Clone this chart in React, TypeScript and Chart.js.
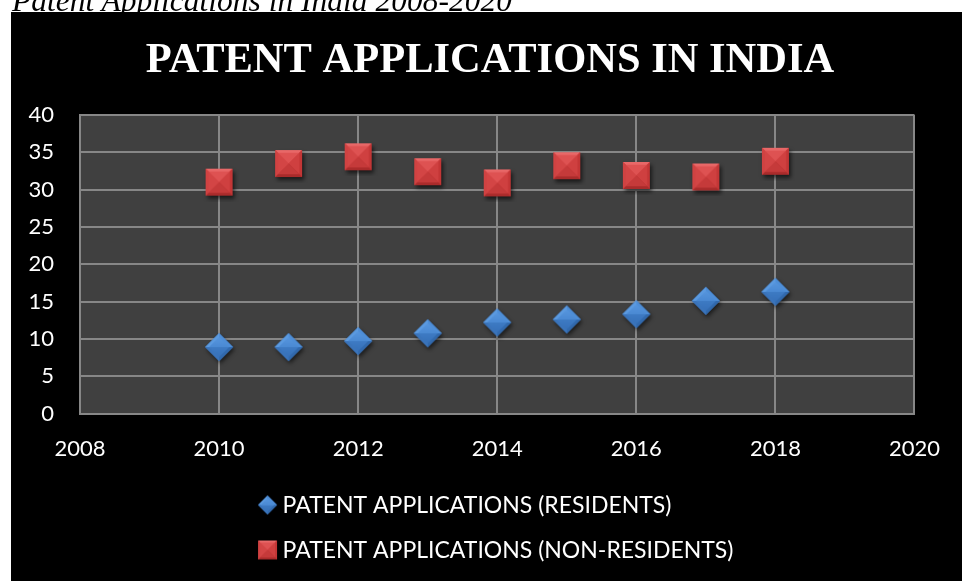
import React, { useEffect, useRef } from "react";
import { Chart, registerables } from "chart.js";

Chart.register(...registerables);

const caption = "Patent Applications in India 2008-2020";
const chartTitle = "PATENT APPLICATIONS IN INDIA";
const years = [2010, 2011, 2012, 2013, 2014, 2015, 2016, 2017, 2018];
const residents = [8.9, 8.9, 9.7, 10.75, 12.2, 12.6, 13.3, 15.1, 16.3];
const nonResidents = [31.0, 33.5, 34.4, 32.4, 30.9, 33.2, 31.9, 31.7, 33.8];
const seriesLabels = [
  "PATENT APPLICATIONS (RESIDENTS)",
  "PATENT APPLICATIONS (NON-RESIDENTS)",
];
const xMin = 2008;
const xMax = 2020;
const xStep = 2;
const yMin = 0;
const yMax = 40;
const yStep = 5;

const TICK_FONT = "Lato";
const SERIF = "'Liberation Serif', 'Times New Roman', serif";

function makeDiamond(size: number): HTMLCanvasElement {
  const pad = 6;
  const c = document.createElement("canvas");
  c.width = size + pad * 2;
  c.height = size + pad * 2;
  const ctx = c.getContext("2d")!;
  const m = c.width / 2;
  const r = size / 2;
  const T = [m, m - r], R = [m + r, m], B = [m, m + r], L = [m - r, m];
  ctx.save();
  ctx.shadowColor = "rgba(0,0,0,0.6)";
  ctx.shadowBlur = 4;
  ctx.shadowOffsetX = 1.5;
  ctx.shadowOffsetY = 2.5;
  ctx.beginPath();
  ctx.moveTo(T[0], T[1]); ctx.lineTo(R[0], R[1]); ctx.lineTo(B[0], B[1]); ctx.lineTo(L[0], L[1]);
  ctx.closePath();
  ctx.fillStyle = "#3b77c0";
  ctx.fill();
  ctx.restore();
  const tri = (a: number[], b: number[], col: string) => {
    ctx.beginPath();
    ctx.moveTo(a[0], a[1]); ctx.lineTo(b[0], b[1]); ctx.lineTo(m, m);
    ctx.closePath();
    ctx.fillStyle = col;
    ctx.fill();
  };
  tri(L, T, "#5b9ae0");
  tri(T, R, "#4e8ed7");
  tri(R, B, "#3169ad");
  tri(B, L, "#3a74bb");
  const ir = r * 0.72;
  ctx.beginPath();
  ctx.moveTo(m, m - ir); ctx.lineTo(m + ir, m); ctx.lineTo(m, m + ir); ctx.lineTo(m - ir, m);
  ctx.closePath();
  const g = ctx.createLinearGradient(m, m - ir, m, m + ir);
  g.addColorStop(0, "#5796de");
  g.addColorStop(0.5, "#4a89d3");
  g.addColorStop(0.5, "#3e7bc4");
  g.addColorStop(1, "#3670b8");
  ctx.fillStyle = g;
  ctx.fill();
  return c;
}

function makeSquare(size: number): HTMLCanvasElement {
  const pad = 6;
  const c = document.createElement("canvas");
  c.width = size + pad * 2;
  c.height = size + pad * 2;
  const ctx = c.getContext("2d")!;
  const m = c.width / 2;
  const r = size / 2;
  const TL = [m - r, m - r], TR = [m + r, m - r], BR = [m + r, m + r], BL = [m - r, m + r];
  ctx.save();
  ctx.shadowColor = "rgba(0,0,0,0.6)";
  ctx.shadowBlur = 4;
  ctx.shadowOffsetX = 1.5;
  ctx.shadowOffsetY = 2.5;
  ctx.fillStyle = "#c13333";
  ctx.fillRect(m - r, m - r, size, size);
  ctx.restore();
  const tri = (a: number[], b: number[], col: string) => {
    ctx.beginPath();
    ctx.moveTo(a[0], a[1]); ctx.lineTo(b[0], b[1]); ctx.lineTo(m, m);
    ctx.closePath();
    ctx.fillStyle = col;
    ctx.fill();
  };
  tri(TL, TR, "#e86868");
  tri(TR, BR, "#c33636");
  tri(BR, BL, "#a92b2b");
  tri(BL, TL, "#d04242");
  const ir = r * 0.8;
  const ITL = [m - ir, m - ir], ITR = [m + ir, m - ir], IBR = [m + ir, m + ir], IBL = [m - ir, m + ir];
  tri(ITL, ITR, "#de5252");
  tri(ITR, IBR, "#cf4040");
  tri(IBR, IBL, "#c53a3a");
  tri(IBL, ITL, "#d34545");
  return c;
}

export default function App() {
  const canvasRef = useRef<HTMLCanvasElement | null>(null);

  useEffect(() => {
    const canvas = canvasRef.current;
    if (!canvas) return;
    const diamond = makeDiamond(28);
    const square = makeSquare(27);
    const legendIcons = [makeDiamond(19), makeSquare(19)];

    const plotBg = {
      id: "plotBg",
      beforeDraw(chart: any) {
        const { ctx, chartArea } = chart;
        ctx.save();
        ctx.fillStyle = "#404040";
        ctx.fillRect(chartArea.left, chartArea.top, chartArea.right - chartArea.left, chartArea.bottom - chartArea.top);
        ctx.restore();
      },
    };

    const customTitle = {
      id: "customTitle",
      afterDraw(chart: any) {
        const { ctx, width } = chart;
        ctx.save();
        ctx.font = `bold 42.5px ${SERIF}`;
        ctx.fillStyle = "#ffffff";
        ctx.textAlign = "center";
        ctx.textBaseline = "alphabetic";
        ctx.fillText(chartTitle, width / 2 + 3.5, 60);
        ctx.restore();
      },
    };

    const customLegend = {
      id: "customLegend",
      afterDraw(chart: any) {
        const { ctx, width, height } = chart;
        ctx.save();
        ctx.font = `23px ${TICK_FONT}`;
        ctx.fillStyle = "#ffffff";
        ctx.textBaseline = "middle";
        ctx.textAlign = "left";
        const labels = chart.data.datasets.map((d: any) => d.label);
        const iconW = 20;
        const gap = 5;
        const maxW = Math.max(...labels.map((l: string) => ctx.measureText(l).width));
        const blockW = iconW + gap + maxW;
        const x0 = width / 2 - blockW / 2 + 9;
        const rowYs = [height - 76, height - 31];
        labels.forEach((l: string, i: number) => {
          const icon = legendIcons[i];
          const y = rowYs[i];
          ctx.drawImage(icon, x0 + iconW / 2 - icon.width / 2, y - icon.height / 2);
          ctx.fillText(l, x0 + iconW + gap, y + 1);
        });
        ctx.restore();
      },
    };

    const chart = new Chart(canvas, {
      type: "scatter",
      data: {
        datasets: [
          {
            label: seriesLabels[0],
            data: years.map((y, i) => ({ x: y, y: residents[i] })),
            pointStyle: diamond as any,
            pointRadius: 14,
            backgroundColor: "#4a89d3",
          },
          {
            label: seriesLabels[1],
            data: years.map((y, i) => ({ x: y, y: nonResidents[i] })),
            pointStyle: square as any,
            pointRadius: 14,
            backgroundColor: "#d04242",
          },
        ],
      },
      options: {
        animation: false,
        responsive: false,
        maintainAspectRatio: false,
        layout: { padding: { left: 0, right: 47, top: 103, bottom: 117.5 } },
        plugins: {
          legend: { display: false },
          tooltip: { enabled: false },
          title: { display: false },
        },
        scales: {
          x: {
            type: "linear",
            min: xMin,
            max: xMax,
            afterFit(scale: any) {
              scale.height = 50;
            },
            ticks: {
              stepSize: xStep,
              color: "#ffffff",
              font: { family: TICK_FONT, size: 22 },
              padding: 22,
              maxRotation: 0,
              callback: (v: any) => String(v),
            },
            grid: { color: "#878787", lineWidth: 2, drawTicks: false },
            border: { display: true, color: "#878787", width: 2 },
          },
          y: {
            type: "linear",
            min: yMin,
            max: yMax,
            afterFit(scale: any) {
              scale.width = 69;
            },
            ticks: {
              stepSize: yStep,
              color: "#ffffff",
              font: { family: TICK_FONT, size: 22 },
              padding: 26,
              callback: (v: any) => String(v),
            },
            grid: { color: "#878787", lineWidth: 2, drawTicks: false },
            border: { display: true, color: "#878787", width: 2 },
          },
        },
      },
      plugins: [plotBg, customTitle, customLegend],
    });
    return () => chart.destroy();
  }, []);

  return (
    <div>
      <div
        style={{
          position: "fixed",
          left: 12,
          top: -15.4,
          fontFamily: SERIF,
          fontStyle: "italic",
          fontSize: 31.5,
          lineHeight: "31.5px",
          color: "#000",
          whiteSpace: "nowrap",
        }}
      >
        {caption}
      </div>
      <div
        style={{
          position: "fixed",
          left: 11,
          top: 12,
          width: 951,
          height: 569,
          background: "#000",
        }}
      >
        <canvas ref={canvasRef} width={951} height={569} style={{ display: "block", width: 951, height: 569 }} />
      </div>
    </div>
  );
}
